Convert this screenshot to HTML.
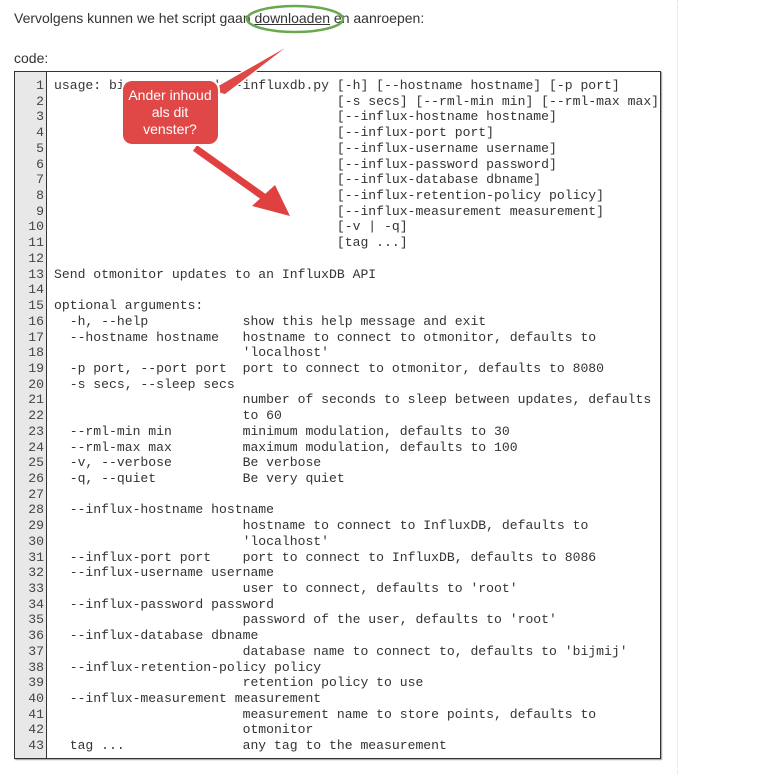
<!DOCTYPE html>
<html><head><meta charset="utf-8"><style>
body{margin:0;width:760px;height:774px;background:#fff;position:relative;overflow:hidden;font-family:"Liberation Sans",Arial,sans-serif;color:#333}
.t{position:absolute;font-size:14px}
.box{position:absolute;left:14px;top:71px;width:645px;height:686px;border:1px solid #333;box-shadow:1px 1px 1px #999;background:#fff}
.gut{position:absolute;left:0;top:0;width:31px;height:100%;background:#e8e8e8;border-right:1px solid #333}
pre{margin:0;position:absolute;top:6px;font-family:"Liberation Mono","Courier New",monospace;font-size:13.1px;line-height:15.72px;color:#333}
.num{left:0;width:29px;text-align:right;color:#444}
.code{left:39px}
</style></head><body>
<div class="t" style="left:14px;top:10px">Vervolgens kunnen we het script gaan <u>downloaden</u> en aanroepen:</div>
<div class="t" style="left:14px;top:50px">code:</div>
<div style="position:absolute;left:677px;top:0;height:774px;border-left:1px dotted #ddd"></div>
<div class="box"><div class="gut"></div>
<pre class="num">1
2
3
4
5
6
7
8
9
10
11
12
13
14
15
16
17
18
19
20
21
22
23
24
25
26
27
28
29
30
31
32
33
34
35
36
37
38
39
40
41
42
43</pre>
<pre class="code">usage: bin/otmon-reader-influxdb.py [-h] [--hostname hostname] [-p port]
                                    [-s secs] [--rml-min min] [--rml-max max]
                                    [--influx-hostname hostname]
                                    [--influx-port port]
                                    [--influx-username username]
                                    [--influx-password password]
                                    [--influx-database dbname]
                                    [--influx-retention-policy policy]
                                    [--influx-measurement measurement]
                                    [-v | -q]
                                    [tag ...]

Send otmonitor updates to an InfluxDB API

optional arguments:
  -h, --help            show this help message and exit
  --hostname hostname   hostname to connect to otmonitor, defaults to
                        'localhost'
  -p port, --port port  port to connect to otmonitor, defaults to 8080
  -s secs, --sleep secs
                        number of seconds to sleep between updates, defaults
                        to 60
  --rml-min min         minimum modulation, defaults to 30
  --rml-max max         maximum modulation, defaults to 100
  -v, --verbose         Be verbose
  -q, --quiet           Be very quiet

  --influx-hostname hostname
                        hostname to connect to InfluxDB, defaults to
                        'localhost'
  --influx-port port    port to connect to InfluxDB, defaults to 8086
  --influx-username username
                        user to connect, defaults to 'root'
  --influx-password password
                        password of the user, defaults to 'root'
  --influx-database dbname
                        database name to connect to, defaults to 'bijmij'
  --influx-retention-policy policy
                        retention policy to use
  --influx-measurement measurement
                        measurement name to store points, defaults to
                        otmonitor
  tag ...               any tag to the measurement</pre>
</div>
<svg width="760" height="774" style="position:absolute;left:0;top:0">
<ellipse cx="295" cy="19" rx="48" ry="13" fill="none" stroke="#6aa84f" stroke-width="2.5"/>
<polygon points="294,42 225,95 210,90" fill="#e04848" stroke="#fff" stroke-width="1.5"/>
<line x1="195" y1="148" x2="268" y2="200" stroke="#e04040" stroke-width="7"/>
<polygon points="290,216 252,206 275,185" fill="#e04040"/>
<rect x="122" y="80" width="97" height="65" rx="10" fill="#e04848" stroke="#fff" stroke-width="2"/>
<text x="170" y="100" fill="#fff" font-size="14" text-anchor="middle" font-family="Liberation Sans,sans-serif">Ander inhoud</text>
<text x="170" y="117" fill="#fff" font-size="14" text-anchor="middle" font-family="Liberation Sans,sans-serif">als dit</text>
<text x="170" y="134" fill="#fff" font-size="14" text-anchor="middle" font-family="Liberation Sans,sans-serif">venster?</text>
</svg>
</body></html>
